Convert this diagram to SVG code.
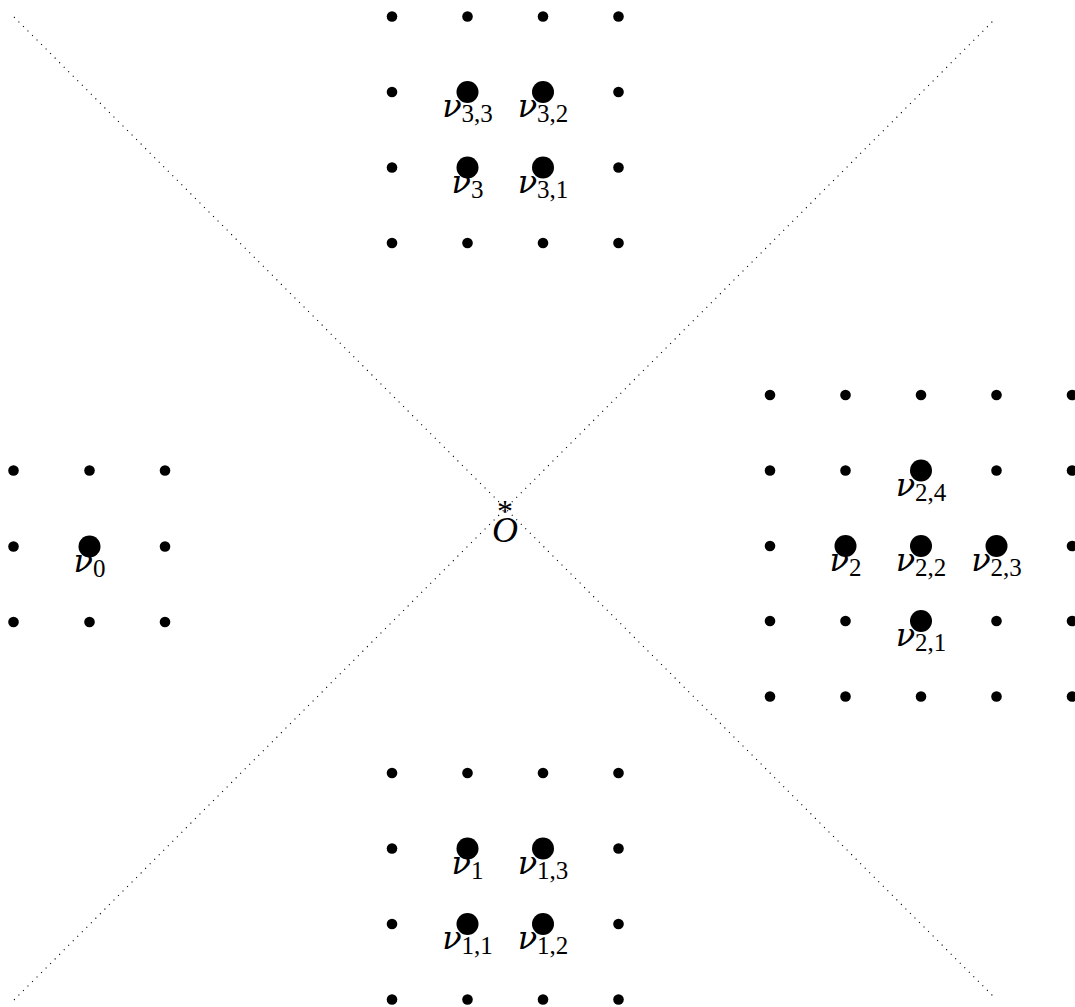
<svg xmlns="http://www.w3.org/2000/svg" width="1075" height="1007" viewBox="0 0 1075 1007">
<style>
.s{fill:#000}
.b{fill:#000}
.guide{stroke:#000;stroke-width:1.1;stroke-dasharray:1.1 5.3;fill:none}
.lbl{font-family:"DejaVu Serif","Liberation Serif",serif;font-size:32px;font-style:italic;text-anchor:middle;fill:#000}
.sub{font-family:"Liberation Serif","DejaVu Serif",serif;font-style:normal;font-size:25px}
.o{font-family:"Liberation Serif","DejaVu Serif",serif;font-size:36px;font-style:italic;text-anchor:middle;fill:#000}
.ast{font-family:"Liberation Serif","DejaVu Serif",serif;font-size:32px;text-anchor:middle;fill:#000}
</style>
<rect width="1075" height="1007" fill="#fff"/>
<g id="connectors">
<line class="guide" x1="14" y1="17" x2="993" y2="996"/>
<line class="guide" x1="14" y1="1000" x2="993" y2="21"/>
</g>
<g id="grid-top">
<circle class="s" cx="392" cy="16.5" r="5.3"/><circle class="s" cx="467.5" cy="16.5" r="5.3"/><circle class="s" cx="543" cy="16.5" r="5.3"/><circle class="s" cx="618.5" cy="16.5" r="5.3"/>
<circle class="s" cx="392" cy="92" r="5.3"/><circle class="s" cx="618.5" cy="92" r="5.3"/>
<circle class="s" cx="392" cy="167.5" r="5.3"/><circle class="s" cx="618.5" cy="167.5" r="5.3"/>
<circle class="s" cx="392" cy="243" r="5.3"/><circle class="s" cx="467.5" cy="243" r="5.3"/><circle class="s" cx="543" cy="243" r="5.3"/><circle class="s" cx="618.5" cy="243" r="5.3"/>
</g>
<g id="grid-left">
<circle class="s" cx="13.5" cy="470.5" r="5.3"/><circle class="s" cx="89.5" cy="470.5" r="5.3"/><circle class="s" cx="165" cy="470.5" r="5.3"/>
<circle class="s" cx="13.5" cy="546.5" r="5.3"/><circle class="s" cx="165" cy="546.5" r="5.3"/>
<circle class="s" cx="13.5" cy="622" r="5.3"/><circle class="s" cx="89.5" cy="622" r="5.3"/><circle class="s" cx="165" cy="622" r="5.3"/>
</g>
<g id="grid-right">
<circle class="s" cx="770" cy="395" r="5.3"/><circle class="s" cx="845.5" cy="395" r="5.3"/><circle class="s" cx="921" cy="395" r="5.3"/><circle class="s" cx="996.5" cy="395" r="5.3"/><circle class="s" cx="1072" cy="395" r="5.3"/>
<circle class="s" cx="770" cy="470.5" r="5.3"/><circle class="s" cx="845.5" cy="470.5" r="5.3"/><circle class="s" cx="996.5" cy="470.5" r="5.3"/><circle class="s" cx="1072" cy="470.5" r="5.3"/>
<circle class="s" cx="770" cy="546" r="5.3"/><circle class="s" cx="1072" cy="546" r="5.3"/>
<circle class="s" cx="770" cy="621" r="5.3"/><circle class="s" cx="845.5" cy="621" r="5.3"/><circle class="s" cx="996.5" cy="621" r="5.3"/><circle class="s" cx="1072" cy="621" r="5.3"/>
<circle class="s" cx="770" cy="696.5" r="5.3"/><circle class="s" cx="845.5" cy="696.5" r="5.3"/><circle class="s" cx="921" cy="696.5" r="5.3"/><circle class="s" cx="996.5" cy="696.5" r="5.3"/><circle class="s" cx="1072" cy="696.5" r="5.3"/>
</g>
<g id="grid-bottom">
<circle class="s" cx="392" cy="773" r="5.3"/><circle class="s" cx="467.5" cy="773" r="5.3"/><circle class="s" cx="543" cy="773" r="5.3"/><circle class="s" cx="618.5" cy="773" r="5.3"/>
<circle class="s" cx="392" cy="848.5" r="5.3"/><circle class="s" cx="618.5" cy="848.5" r="5.3"/>
<circle class="s" cx="392" cy="924" r="5.3"/><circle class="s" cx="618.5" cy="924" r="5.3"/>
<circle class="s" cx="392" cy="999.5" r="5.3"/><circle class="s" cx="467.5" cy="999.5" r="5.3"/><circle class="s" cx="543" cy="999.5" r="5.3"/><circle class="s" cx="618.5" cy="999.5" r="5.3"/>
</g>
<g id="origin">
<text class="ast" x="505" y="522">*</text>
<text class="o" x="505" y="542">O</text>
</g>
<g id="nu33"><circle class="b" cx="467.5" cy="92" r="11"/><text class="lbl" x="467.5" y="117">ν<tspan class="sub" dy="5">3,3</tspan></text></g>
<g id="nu32"><circle class="b" cx="543" cy="92" r="11"/><text class="lbl" x="543" y="117">ν<tspan class="sub" dy="5">3,2</tspan></text></g>
<g id="nu3"><circle class="b" cx="467.5" cy="167.5" r="11"/><text class="lbl" x="467.5" y="193">ν<tspan class="sub" dy="5">3</tspan></text></g>
<g id="nu31"><circle class="b" cx="543" cy="167.5" r="11"/><text class="lbl" x="543" y="193">ν<tspan class="sub" dy="5">3,1</tspan></text></g>
<g id="nu0"><circle class="b" cx="89.5" cy="546.5" r="11"/><text class="lbl" x="89.5" y="572">ν<tspan class="sub" dy="5">0</tspan></text></g>
<g id="nu24"><circle class="b" cx="921" cy="470.5" r="11"/><text class="lbl" x="921" y="496">ν<tspan class="sub" dy="5">2,4</tspan></text></g>
<g id="nu2"><circle class="b" cx="845.5" cy="546" r="11"/><text class="lbl" x="845.5" y="571">ν<tspan class="sub" dy="5">2</tspan></text></g>
<g id="nu22"><circle class="b" cx="921" cy="546" r="11"/><text class="lbl" x="921" y="571">ν<tspan class="sub" dy="5">2,2</tspan></text></g>
<g id="nu23"><circle class="b" cx="996.5" cy="546" r="11"/><text class="lbl" x="996.5" y="571">ν<tspan class="sub" dy="5">2,3</tspan></text></g>
<g id="nu21"><circle class="b" cx="921" cy="621" r="11"/><text class="lbl" x="921" y="646">ν<tspan class="sub" dy="5">2,1</tspan></text></g>
<g id="nu1"><circle class="b" cx="467.5" cy="848.5" r="11"/><text class="lbl" x="467.5" y="874">ν<tspan class="sub" dy="5">1</tspan></text></g>
<g id="nu13"><circle class="b" cx="543" cy="848.5" r="11"/><text class="lbl" x="543" y="874">ν<tspan class="sub" dy="5">1,3</tspan></text></g>
<g id="nu11"><circle class="b" cx="467.5" cy="924" r="11"/><text class="lbl" x="467.5" y="949">ν<tspan class="sub" dy="5">1,1</tspan></text></g>
<g id="nu12"><circle class="b" cx="543" cy="924" r="11"/><text class="lbl" x="543" y="949">ν<tspan class="sub" dy="5">1,2</tspan></text></g>
</svg>
